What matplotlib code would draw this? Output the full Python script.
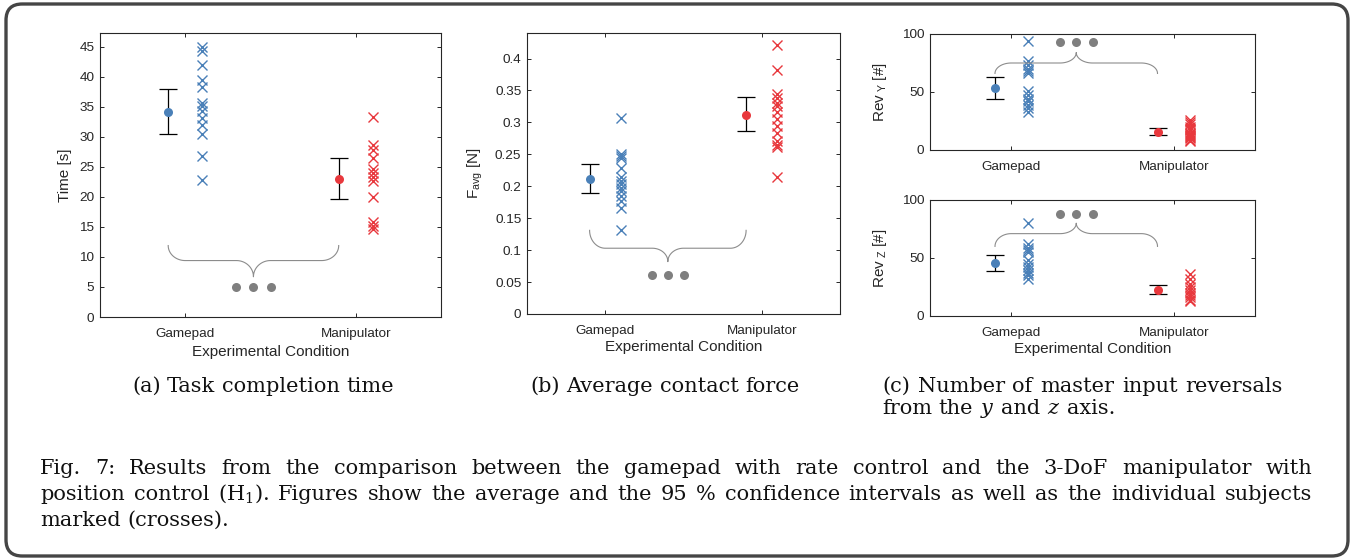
import numpy as np
import matplotlib
matplotlib.use('Agg')
import matplotlib.pyplot as plt
from matplotlib.patches import FancyBboxPatch

plt.rcParams['font.family'] = 'Liberation Sans'
plt.rcParams['mathtext.fontset'] = 'custom'
plt.rcParams['mathtext.rm'] = 'Liberation Sans'
plt.rcParams['mathtext.it'] = 'Liberation Sans:italic'

# data
conditions = ['Gamepad', 'Manipulator']

time_mean = [34.2, 23.0]
time_lo = [30.5, 19.7]
time_hi = [37.9, 26.4]
time_gamepad = [45.0, 44.3, 41.9, 39.4, 38.3, 35.6, 35.2, 34.3, 33.1, 31.9, 30.4, 26.8, 22.9]
time_manip = [33.3, 28.6, 27.8, 26.4, 24.6, 23.9, 23.3, 22.6, 20.0, 15.8, 15.2, 14.7]

force_mean = [0.212, 0.312]
force_lo = [0.190, 0.286]
force_hi = [0.235, 0.340]
force_gamepad = [0.307, 0.250, 0.247, 0.245, 0.228, 0.214, 0.208, 0.203, 0.198, 0.193,
                 0.185, 0.177, 0.166, 0.132]
force_manip = [0.421, 0.382, 0.345, 0.338, 0.331, 0.325, 0.317, 0.306, 0.294, 0.283,
               0.271, 0.265, 0.262, 0.214]

revy_mean = [53.3, 15.9]
revy_lo = [43.8, 13.0]
revy_hi = [62.8, 19.3]
revy_gamepad = [94, 77, 73, 70, 68, 66, 51, 47, 44, 42, 39, 36, 33]
revy_manip = [26, 24, 22, 20, 18, 17, 15, 14, 13, 12, 11, 10, 9, 8]

revz_mean = [45.8, 22.8]
revz_lo = [38.6, 18.7]
revz_hi = [52.7, 27.1]
revz_gamepad = [80, 62, 59, 57, 55, 48, 45, 42, 40, 37, 35, 32]
revz_manip = [36, 32, 28, 25, 22, 20, 18, 16, 14, 13]

# significance brace: (end, flat, tip, dots) y levels
brace_time = (11.9, 9.4, 6.7, 5.0)
brace_force = (0.131, 0.103, 0.082, 0.061)
brace_revy = (66, 75, 84, 93)
brace_revz = (60, 71, 80, 88)

blue = '#4a80b8'
red = '#e8383d'
gray = '#7f7f7f'
axc = '#262626'

W, H = 1354, 560
fig = plt.figure(figsize=(W / 100, H / 100), dpi=100)


def make_ax(l, t, r, b):
    ax = fig.add_axes([l / W, 1 - b / H, (r - l) / W, (b - t) / H])
    for s in ax.spines.values():
        s.set_color(axc)
        s.set_linewidth(0.8)
    ax.tick_params(direction='in', top=True, right=True, length=3, width=0.7,
                   colors=axc, labelsize=9.7, pad=4)
    ax.tick_params(axis='x', pad=8)
    ax.set_xlim(0.5, 2.5)
    ax.set_xticks([1, 2])
    ax.set_xticklabels(conditions)
    return ax


def draw_brace(ax, x0, x1, lev, rx=0.1):
    ye, yf, yt, yd = lev
    xm = (x0 + x1) / 2
    t = np.linspace(0, np.pi / 2, 30)
    seg1x = x0 + rx * (1 - np.cos(t))
    seg1y = yf + (ye - yf) * (1 - np.sin(t))
    seg2x = xm - rx + rx * np.sin(t)
    seg2y = yf + (yt - yf) * (1 - np.cos(t))
    xs = np.concatenate([seg1x, seg2x, (2 * xm - seg2x)[::-1], (2 * xm - seg1x)[::-1]])
    ys = np.concatenate([seg1y, seg2y, seg2y[::-1], seg1y[::-1]])
    ax.plot(xs, ys, color='#8c8c8c', lw=0.8)
    ax.plot([xm - 0.1, xm, xm + 0.1], [yd] * 3, 'o', color=gray, ms=6.5, mec='none')


def panel(ax, mean, lo, hi, gp, mp, brace):
    pos = np.arange(1, 3)
    cols = [blue, red]
    for i in range(2):
        ax.errorbar(pos[i] - 0.1, mean[i],
                    yerr=[[mean[i] - lo[i]], [hi[i] - mean[i]]],
                    fmt='none', ecolor='black', elinewidth=0.9, capsize=6.5, capthick=0.9)
        ax.plot(pos[i] - 0.1, mean[i], 'o', color=cols[i], ms=6.5, mec='none')
    ax.plot(np.full(len(gp), pos[0] + 0.1), gp, 'x', color=blue, ms=7, mew=1.0)
    ax.plot(np.full(len(mp), pos[1] + 0.1), mp, 'x', color=red, ms=7, mew=1.0)
    draw_brace(ax, pos[0] - 0.1, pos[1] - 0.1, brace)


# (a) task completion time
ax1 = make_ax(100, 33, 441, 317)
panel(ax1, time_mean, time_lo, time_hi, time_gamepad, time_manip, brace_time)
ax1.set_ylim(0, 47.3)
ax1.set_yticks(np.arange(0, 46, 5))
ax1.set_ylabel('Time [s]', fontsize=11, color=axc)
ax1.yaxis.set_label_coords(-0.082, 0.5)
ax1.set_xlabel('Experimental Condition', fontsize=11, color=axc)
ax1.xaxis.set_label_coords(0.5, -0.097)

# (b) average contact force
ax2 = make_ax(527, 33, 840, 314)
panel(ax2, force_mean, force_lo, force_hi, force_gamepad, force_manip, brace_force)
ax2.set_ylim(0, 0.44)
ax2.set_yticks(np.arange(0, 0.41, 0.05))
ax2.set_yticklabels(['0', '0.05', '0.1', '0.15', '0.2', '0.25', '0.3', '0.35', '0.4'])
ax2.set_ylabel(r'F$_{\rm avg}$ [N]', fontsize=11, color=axc)
ax2.yaxis.set_label_coords(-0.135, 0.5)
ax2.set_xlabel('Experimental Condition', fontsize=11, color=axc)
ax2.xaxis.set_label_coords(0.5, -0.094)

# (c) input reversals
ax3 = make_ax(930, 34, 1255, 150)
panel(ax3, revy_mean, revy_lo, revy_hi, revy_gamepad, revy_manip, brace_revy)
ax3.set_ylim(0, 100)
ax3.set_yticks([0, 50, 100])
ax3.set_ylabel(r'Rev$_{\rm\ Y}$ [#]', fontsize=11, color=axc)
ax3.yaxis.set_label_coords(-0.126, 0.5)

ax4 = make_ax(930, 200, 1255, 316)
panel(ax4, revz_mean, revz_lo, revz_hi, revz_gamepad, revz_manip, brace_revz)
ax4.set_ylim(0, 100)
ax4.set_yticks([0, 50, 100])
ax4.set_ylabel(r'Rev$_{\rm\ Z}$ [#]', fontsize=11, color=axc)
ax4.yaxis.set_label_coords(-0.126, 0.5)
ax4.set_xlabel('Experimental Condition', fontsize=11, color=axc)
ax4.xaxis.set_label_coords(0.5, -0.228)

# frame around the figure
fig.patches.append(FancyBboxPatch((6 / W, 4 / H), 1 - 12 / W, 1 - 8 / H,
                                  boxstyle='round,pad=0,rounding_size=0.012',
                                  transform=fig.transFigure, fill=False,
                                  edgecolor='#454545', lw=2.4, mutation_aspect=W / H))

# captions, words placed one by one so lines can be justified
serif = 'DejaVu Serif'
csize = 15
renderer = fig.canvas.get_renderer()


def text_width(s):
    t = fig.text(0, 0, s, fontsize=csize, family=serif)
    w = t.get_window_extent(renderer).width
    t.remove()
    return w


space = text_width('a a') - 2 * text_width('a')


def put_line(words, x0, ybase, x1=None, align='left'):
    txts = [fig.text(0, 1 - ybase / H, w, fontsize=csize, family=serif, va='baseline',
                     color='#111111', math_fontfamily='dejavuserif') for w in words]
    widths = [t.get_window_extent(renderer).width for t in txts]
    if x1 is not None and len(words) > 1:
        gap = (x1 - x0 - sum(widths)) / (len(words) - 1)
    else:
        gap = space
    total = sum(widths) + gap * (len(words) - 1)
    x = x0 - total / 2 if align == 'center' else x0
    for t, w in zip(txts, widths):
        t.set_x(x / W)
        x += w + gap


put_line('(a) Task completion time'.split(), 263, 392, align='center')
put_line('(b) Average contact force'.split(), 665, 392, align='center')
put_line('(c) Number of master input reversals'.split(), 882, 392, x1=1283)
put_line(['from', 'the', '$y$', 'and', '$z$', 'axis.'], 882, 414)

line1 = ('Fig. 7: Results from the comparison between the gamepad with rate control '
         'and the 3-DoF manipulator with').split()
line2 = ('position control (H$_1$). Figures show the average and the 95 % confidence '
         'intervals as well as the individual subjects').split()
line3 = 'marked (crosses).'.split()
put_line(line1, 40, 474, x1=1312)
put_line(line2, 40, 500, x1=1312)
put_line(line3, 40, 526)

fig.savefig('out.png', dpi=100)
